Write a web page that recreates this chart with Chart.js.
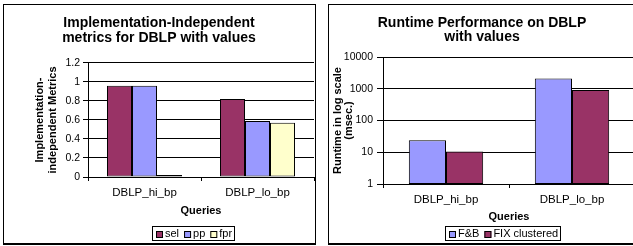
<!DOCTYPE html>
<html>
<head>
<meta charset="utf-8">
<script src="https://cdn.jsdelivr.net/npm/chart.js@4.4.1/dist/chart.umd.min.js"></script>
<style>
  html, body { margin: 0; padding: 0; background: #fff; }
  body { width: 633px; height: 246px; overflow: hidden; position: relative; }
  .frame { position: absolute; border: 1px solid #000; border-bottom-width: 2px; background: #fff; }
  #leftFrame { left: 3px; top: 4px; width: 311px; height: 238px; }
  #rightFrame { left: 328px; top: 4px; width: 306px; height: 238px; }
  canvas { display: block; }
</style>
</head>
<body>
<div class="frame" id="leftFrame"><canvas id="metricsChart" width="311" height="238"></canvas></div>
<div class="frame" id="rightFrame"><canvas id="runtimeChart" width="306" height="238"></canvas></div>
<script>
// Dados
const queries = ['DBLP_hi_bp', 'DBLP_lo_bp'];
const selValues = [0.96, 0.82];
const ppValues = [0.96, 0.59];
const fprValues = [0.02, 0.57];
const metricTicks = [0, 0.2, 0.4, 0.6, 0.8, 1, 1.2];

const fbValues = [24, 2100];
const fixValues = [10.5, 920];
const runtimeTicks = [1, 10, 100, 1000, 10000];

const family = '"Liberation Sans", Arial, sans-serif';

// Legenda com moldura, estilo Excel
const boxLegend = {
    id: 'boxLegend',
    afterDraw(chart, args, opts) {
        const ctx = chart.ctx;
        const sets = chart.data.datasets;
        const box = 7, gap = 2, itemGap = 5, pad = 3;
        ctx.save();
        ctx.font = opts.size + 'px ' + family;
        let w = pad * 2;
        sets.forEach((d, i) => {
            w += box + gap + ctx.measureText(d.label).width + (i ? itemGap : 0);
        });
        w = Math.round(w);
        const x0 = Math.round(opts.cx - w / 2);
        const y0 = opts.top;
        const h = opts.height;
        ctx.strokeStyle = '#000';
        ctx.lineWidth = 1;
        ctx.strokeRect(x0 + 0.5, y0 + 0.5, w, h);
        let x = x0 + pad + 1;
        const cy = y0 + h / 2 + 1;
        ctx.textBaseline = 'middle';
        ctx.textAlign = 'left';
        sets.forEach((d, i) => {
            if (i) x += itemGap;
            const by = Math.round(cy - box / 2);
            ctx.fillStyle = d.backgroundColor;
            ctx.fillRect(x, by, box, box);
            ctx.strokeRect(x + 0.5, by + 0.5, box - 1, box - 1);
            x += box + gap;
            ctx.fillStyle = '#000';
            ctx.fillText(d.label, x, cy);
            x += ctx.measureText(d.label).width;
        });
        ctx.restore();
    }
};

function barSet(label, data, color, catPct) {
    return {
        label: label,
        data: data,
        backgroundColor: color,
        borderColor: '#000',
        borderWidth: 1,
        borderSkipped: false,
        barPercentage: 1,
        categoryPercentage: catPct
    };
}

let metricsChart = new Chart(document.getElementById('metricsChart').getContext('2d'), {
    type: 'bar',
    data: {
        labels: queries,
        datasets: [
            barSet('sel', selValues, '#993366', 0.664),
            barSet('pp', ppValues, '#9999FF', 0.664),
            barSet('fpr', fprValues, '#FFFFCC', 0.664)
        ]
    },
    plugins: [boxLegend],
    options: {
        responsive: false,
        animation: false,
        layout: { padding: { left: 0, right: 1, top: 0, bottom: 0 } },
        plugins: {
            legend: { display: false },
            tooltip: { enabled: false },
            title: {
                display: true,
                text: ['Implementation-Independent', 'metrics for DBLP with values'],
                color: '#000',
                font: { family: family, size: 14, weight: 'bold', lineHeight: 1.07 },
                padding: { top: 10.5, bottom: 17.5 }
            },
            boxLegend: { cx: 189, top: 221, height: 14, size: 11 }
        },
        scales: {
            x: {
                grid: { drawOnChartArea: false, tickLength: 4, color: '#000' },
                border: { color: '#000' },
                ticks: { color: '#000', padding: 5, font: { family: family, size: 11.5 } },
                title: {
                    display: true, text: 'Queries', color: '#000',
                    font: { family: family, size: 11, weight: 'bold', lineHeight: 1.2 },
                    padding: { top: 0, bottom: 25.4 }
                },
                afterFit: s => { s.height = 66; }
            },
            y: {
                min: 0,
                max: 1.2,
                afterBuildTicks: s => { s.ticks = metricTicks.map(v => ({ value: v })); },
                grid: { color: '#000', tickLength: 5 },
                border: { color: '#000' },
                ticks: { color: '#000', padding: 3, font: { family: family, size: 10.5 }, callback: v => String(v) },
                title: {
                    display: true, text: ['Implementation-', 'independent Metrics'], color: '#000',
                    font: { family: family, size: 11, weight: 'bold', lineHeight: 1.2 },
                    padding: { top: 29.4, bottom: 0 }
                },
                afterFit: s => { s.width = 84; }
            }
        }
    }
});

let runtimeChart = new Chart(document.getElementById('runtimeChart').getContext('2d'), {
    type: 'bar',
    data: {
        labels: queries,
        datasets: [
            barSet('F&B', fbValues, '#9999FF', 0.59),
            barSet('FIX clustered', fixValues, '#993366', 0.59)
        ]
    },
    plugins: [boxLegend],
    options: {
        responsive: false,
        animation: false,
        layout: { padding: { left: 0, right: 0, top: 0, bottom: 0 } },
        plugins: {
            legend: { display: false },
            tooltip: { enabled: false },
            title: {
                display: true,
                text: ['Runtime Performance on DBLP', 'with values'],
                color: '#000',
                font: { family: family, size: 14, weight: 'bold', lineHeight: 1.0 },
                padding: { top: 11, bottom: 13 }
            },
            boxLegend: { cx: 173.5, top: 221, height: 14, size: 11 }
        },
        scales: {
            x: {
                grid: { drawOnChartArea: false, tickLength: 4, color: '#000' },
                border: { color: '#000' },
                ticks: { color: '#000', padding: 5, font: { family: family, size: 11.5 } },
                title: {
                    display: true, text: 'Queries', color: '#000',
                    font: { family: family, size: 11, weight: 'bold', lineHeight: 1.2 },
                    padding: { top: 0, bottom: 19.1 }
                },
                afterFit: s => { s.height = 59; }
            },
            y: {
                type: 'logarithmic',
                min: 1,
                max: 10000,
                afterBuildTicks: s => { s.ticks = runtimeTicks.map(v => ({ value: v })); },
                grid: { color: '#000', tickLength: 6 },
                border: { color: '#000' },
                ticks: { color: '#000', padding: 4, font: { family: family, size: 10.5 }, callback: v => String(v) },
                title: {
                    display: true, text: ['Runtime in log scale', '(msec.)'], color: '#000',
                    font: { family: family, size: 11, weight: 'bold', lineHeight: 1.05 },
                    padding: { top: 2.9, bottom: 0 }
                },
                afterFit: s => { s.width = 54; }
            }
        }
    }
});
</script>
</body>
</html>
